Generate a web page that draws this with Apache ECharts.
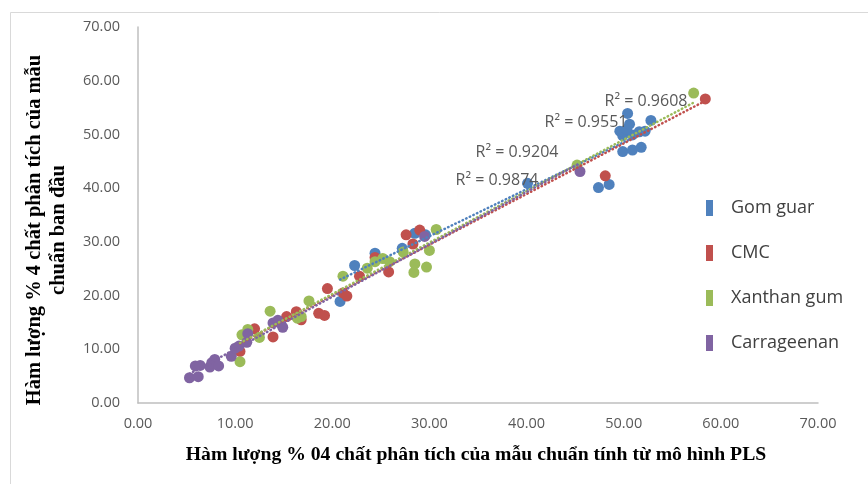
<!DOCTYPE html>
<html>
<head>
<meta charset="utf-8">
<script src="https://cdn.jsdelivr.net/npm/echarts@6/dist/echarts.min.js"></script>
<style>
  html, body { margin: 0; padding: 0; background: #ffffff; }
  #chart { width: 868px; height: 484px; }
</style>
</head>
<body>
<div id="chart"></div>
<script>
// Series names (legend order)
const seriesNames = ['Gom guar', 'CMC', 'Xanthan gum', 'Carrageenan'];
const seriesColors = ['#4f81bd', '#c0504d', '#9bbb59', '#8064a2'];

// Axis ticks
const axisTicks = [0, 10, 20, 30, 40, 50, 60, 70];

// [PLS predicted %, reference %] pairs per polymer
const gomGuar = [
  [20.8, 18.9], [22.3, 25.6], [24.4, 27.9], [27.2, 28.8], [28.5, 31.6], [29.6, 31.3],
  [40.1, 40.9], [47.4, 40.1], [48.5, 40.7],
  [49.9, 46.8], [50.9, 47.1], [51.8, 47.6],
  [49.9, 49.8], [50.9, 49.9], [51.6, 50.5], [52.2, 50.6], [49.6, 50.6], [50.3, 50.9],
  [50.6, 51.9], [52.8, 52.6], [50.4, 53.9]
];
const cmc = [
  [10.5, 9.6], [12.0, 13.8], [13.9, 12.3], [15.3, 16.1], [16.3, 17.0], [16.8, 15.5],
  [18.6, 16.7], [19.2, 16.3], [19.5, 21.3], [21.1, 20.5], [21.5, 19.9], [22.8, 23.6],
  [24.4, 27.1], [25.8, 24.4], [27.6, 31.3], [28.3, 29.6], [29.0, 32.2],
  [48.1, 42.3], [58.4, 56.6]
];
const xanthanGum = [
  [10.5, 7.7], [10.7, 12.7], [11.3, 13.7], [12.5, 12.2], [13.6, 17.1], [16.4, 15.8],
  [16.8, 16.1], [17.6, 19.0], [21.1, 23.6], [23.6, 25.1], [24.4, 26.3], [25.2, 26.9],
  [25.9, 26.3], [27.3, 28.1], [28.4, 24.3], [28.5, 25.9], [29.7, 25.3], [30.0, 28.4],
  [30.7, 32.3], [45.2, 44.3], [57.2, 57.7]
];
const carrageenan = [
  [5.3, 4.7], [6.2, 4.9], [5.9, 6.9], [6.4, 7.0], [7.4, 6.7], [7.6, 7.5], [7.9, 8.1],
  [8.3, 6.9], [9.6, 8.7], [10.0, 10.2], [10.4, 10.6], [11.2, 11.3], [11.3, 12.9],
  [13.9, 14.9], [14.4, 15.4], [14.9, 14.1], [29.5, 31.0], [45.5, 43.1]
];

// Coefficient of determination printed beside each trendline
const r2Labels = ['R² = 0.9608', 'R² = 0.9551', 'R² = 0.9204', 'R² = 0.9874'];

const allData = [gomGuar, cmc, xanthanGum, carrageenan];

// Least-squares linear fit, drawn across each series' x range
function linearTrend(points) {
  const n = points.length;
  let sx = 0, sy = 0, sxx = 0, sxy = 0;
  let minX = Infinity, maxX = -Infinity;
  points.forEach(([x, y]) => {
    sx += x; sy += y; sxx += x * x; sxy += x * y;
    if (x < minX) minX = x;
    if (x > maxX) maxX = x;
  });
  const slope = (n * sxy - sx * sy) / (n * sxx - sx * sx);
  const intercept = (sy - slope * sx) / n;
  return [[minX, intercept + slope * minX], [maxX, intercept + slope * maxX]];
}

const chart = echarts.init(document.getElementById('chart'), null, { renderer: 'canvas' });

const scatterSeries = seriesNames.map((name, i) => ({
  name: name,
  type: 'scatter',
  data: allData[i],
  symbol: 'circle',
  symbolSize: 11,
  itemStyle: { color: seriesColors[i], opacity: 1 },
  emphasis: { disabled: true },
  z: 2
}));

const trendSeries = seriesNames.map((name, i) => ({
  name: name + ' trend',
  type: 'line',
  data: linearTrend(allData[i]),
  showSymbol: false,
  symbol: 'none',
  silent: true,
  lineStyle: { color: seriesColors[i], width: 2.5, type: [0.5, 3.5], cap: 'round' },
  z: 3
}));

const tickFmt = v => v.toFixed(2);

// R² annotations (text centre positions in px)
const r2Pos = [[646, 101], [586, 122], [517, 152], [497, 180]];

chart.setOption({
  animation: false,
  backgroundColor: '#ffffff',
  grid: { left: 138, right: 50, top: 27, bottom: 81, containLabel: false },
  xAxis: {
    type: 'value', min: axisTicks[0], max: axisTicks[axisTicks.length - 1], interval: 10,
    splitLine: { show: false },
    axisTick: { show: false },
    axisLine: { show: true, onZero: false, lineStyle: { color: '#bfbfbf', width: 1.5 } },
    axisLabel: { formatter: tickFmt, color: '#595959', fontFamily: 'Open Sans', fontSize: 14.5, margin: 13 }
  },
  yAxis: {
    type: 'value', min: axisTicks[0], max: axisTicks[axisTicks.length - 1], interval: 10,
    splitLine: { show: false },
    axisTick: { show: false },
    axisLine: { show: true, onZero: false, lineStyle: { color: '#bfbfbf', width: 1.5 } },
    axisLabel: { formatter: tickFmt, color: '#595959', fontFamily: 'Open Sans', fontSize: 14.5, margin: 18 }
  },
  legend: {
    data: seriesNames,
    orient: 'vertical',
    left: 701,
    top: 194,
    icon: 'rect',
    itemWidth: 7,
    itemHeight: 16,
    itemGap: 27,
    selectedMode: false,
    textStyle: { color: '#404040', fontFamily: 'Open Sans', fontSize: 18, lineHeight: 16, padding: [0, 0, 0, 13] }
  },
  graphic: [
    {
      type: 'rect', silent: true, z: -1,
      shape: { x: 10.5, y: 12.5, width: 900, height: 520 },
      style: { fill: 'none', stroke: '#d9d9d9', lineWidth: 1 }
    },
    {
      type: 'text', silent: true,
      x: 476, y: 455,
      style: {
        text: 'Hàm lượng % 04 chất phân tích của mẫu chuẩn tính từ mô hình PLS',
        fontFamily: 'Liberation Serif', fontWeight: 'bold', fontSize: 19.7,
        fill: '#000000', align: 'center', verticalAlign: 'middle'
      }
    },
    {
      type: 'text', silent: true,
      x: 47, y: 230, rotation: Math.PI / 2,
      style: {
        text: 'Hàm lượng % 4 chất phân tích của mẫu\nchuẩn ban đầu',
        fontFamily: 'Liberation Serif', fontWeight: 'bold', fontSize: 20.5, lineHeight: 24,
        fill: '#000000', align: 'center', verticalAlign: 'middle'
      }
    }
  ].concat(r2Labels.map((t, i) => ({
    type: 'text', silent: true, z: 10,
    x: r2Pos[i][0], y: r2Pos[i][1],
    style: {
      text: t, fontFamily: 'Open Sans', fontSize: 16, fill: '#595959',
      align: 'center', verticalAlign: 'middle'
    }
  }))),
  series: scatterSeries.concat(trendSeries)
});
</script>
</body>
</html>
